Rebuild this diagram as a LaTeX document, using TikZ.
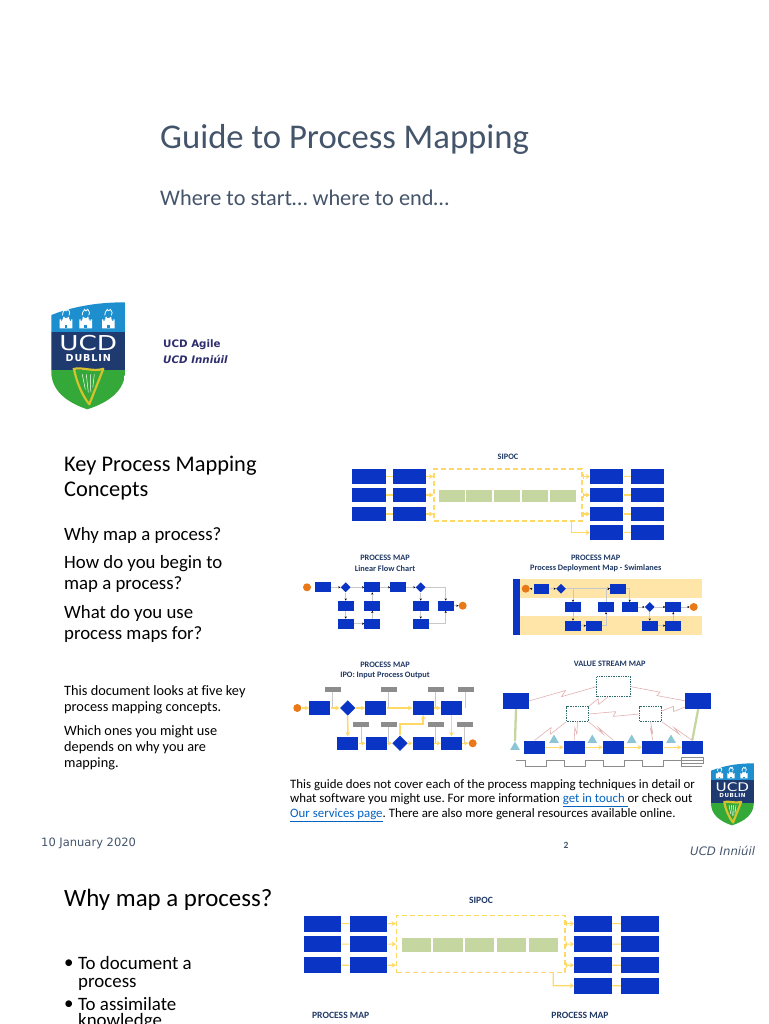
\documentclass[tikz,border=0pt]{standalone}
\usepackage{fontspec}
\setmainfont[Ligatures=NoCommon]{Carlito}
\newfontfamily\verdfont{DejaVu Sans}
\newfontfamily\crestfont[LetterSpace=9]{DejaVu Sans}
\usetikzlibrary{arrows.meta, calc, shapes.geometric}
\definecolor{mapBlue}{HTML}{0A35C4}
\definecolor{mapYellow}{HTML}{FFD966}
\definecolor{mapLane}{HTML}{FFE6A8}
\definecolor{mapGreen}{HTML}{C5D6A0}
\definecolor{mapOrange}{HTML}{E97816}
\definecolor{mapNavy}{HTML}{1F3864}
\definecolor{mapThin}{HTML}{C8C8C8}
\definecolor{mapGrey}{HTML}{8C8C8C}
\definecolor{mapTeal}{HTML}{2F6B6B}
\definecolor{mapTri}{HTML}{8CC6D6}
\definecolor{mapZig}{HTML}{E2B0B0}
\definecolor{slateText}{HTML}{44546A}
\definecolor{deepText}{HTML}{2E2E6E}
\definecolor{linkBlue}{HTML}{0563C1}
\definecolor{crestSky}{HTML}{1D8FCF}
\definecolor{crestNavy}{HTML}{1F3A6E}
\definecolor{crestGreen}{HTML}{35A83A}
\definecolor{crestGold}{HTML}{D6C22C}
\newcommand{\fs}[2]{\fontsize{#1}{#2}\selectfont}
\tikzset{
  every node/.append style={inner sep=0pt},
  txt/.style={anchor=west, align=left, text=black},
  mapbox/.style={fill=mapBlue, minimum width=15.7, minimum height=9.7},
  ipobox/.style={fill=mapBlue, minimum width=21, minimum height=13.4},
  mapdia/.style={diamond, fill=mapBlue, minimum width=10, minimum height=10},
  ipodia/.style={diamond, fill=mapBlue, minimum width=15.5, minimum height=15.5},
  endpt/.style={circle, fill=mapOrange, minimum size=8},
  greybox/.style={fill=mapGrey, minimum width=16.3, minimum height=5},
  maphead/.style={font=\fs{8.3}{9}\bfseries, text=mapNavy},
  bighead/.style={font=\fs{9.6}{10}\bfseries, text=mapNavy},
  dashbox/.style={draw=mapTeal, densely dotted, line width=0.7pt},
  vsmtri/.style={regular polygon, regular polygon sides=3, fill=mapTri, minimum size=11},
  thinflow/.style={draw=mapThin, line width=0.5pt, -{Stealth[black, length=2.2pt, width=2.2pt]}},
  fatflow/.style={draw=mapYellow, line width=1.5pt, -{Stealth[length=4.5pt, width=4.5pt]}},
  siplink/.style={draw=mapYellow, line width=1.2pt},
  sipflow/.style={siplink, -{Stealth[length=4.5pt, width=5pt]}},
  sipout/.style={siplink, {Bar[width=5pt]}-{Stealth[length=4.5pt, width=5pt]}},
  zig/.style={draw=mapZig, line width=0.6pt},
  vsmpole/.style={draw=mapGreen, line width=2.3pt},
}
\newcommand{\zigline}[2]{\draw[zig] (#1) -- ($(#1)!.56!(#2)+(-1.2,-2.4)$) -- ($(#1)!.46!(#2)+(1.2,2.4)$) -- (#2);}
% one SIPOC block: prefix, origin, x and y scale
\newcommand{\sipocmap}[5]{
  \begin{scope}[shift={(#2,#3)}, xscale=#4, yscale=#5,
      sbox/.style={fill=mapBlue, minimum width=32.6*#4*1.015, minimum height=14.5*#5},
      gbox/.style={fill=mapGreen, minimum width=26*#4, minimum height=12.6*#5}]
    \foreach \i/\y in {1/7.5, 2/26, 3/45} {
      \node[sbox] (#1sa\i) at (16.3,\y) {};
      \node[sbox] (#1sb\i) at (56.8,\y) {};
    }
    \foreach \i/\y in {1/7.5, 2/26, 3/45, 4/63.5} {
      \node[sbox] (#1ca\i) at (254.2,\y) {};
      \node[sbox] (#1cb\i) at (295.1,\y) {};
      \draw[siplink] (#1ca\i) -- (#1cb\i);
    }
    \foreach \i/\x in {1/99, 2/126.6, 3/154.3, 4/182.3, 5/210.3}
      \node[gbox] (#1g\i) at (\x,27) {};
    \node[draw=mapYellow, dashed, dash pattern=on 5pt off 3pt, line width=1.1pt,
      minimum width=148*#4, minimum height=52*#5] (#1proc) at (155.3,26) {};
    \foreach \i in {1,2,3} {
      \draw[siplink] (#1sa\i) -- (#1sb\i);
      \draw[sipflow] (#1sb\i) -- (#1sb\i -| #1proc.west);
    }
    \foreach \i in {1,2,3}
      \draw[sipout] (#1ca\i -| #1proc.east) -- (#1ca\i);
    \coordinate (#1tap) at (219,52);
    \draw[sipflow] (#1tap) -- (#1tap |- #1ca4) -- (#1ca4);
  \end{scope}
}
% crest: origin and size factor
\newcommand{\castle}[1]{
  \begin{scope}[shift={(#1,26)}]
    \fill[white] (-6.3,0) -- (-6.3,-9) -- (-5,-9) -- (-5,-7.5) -- (-3.8,-7.5) -- (-3.8,-9) -- (-2.2,-9) -- (-2.2,-7.5) -- (2.2,-7.5)
      -- (2.2,-9) -- (3.8,-9) -- (3.8,-7.5) -- (5,-7.5) -- (5,-9) -- (6.3,-9) -- (6.3,0) -- cycle;
    \fill[white] (-3,-7) -- (-3,-11.5) -- (-1.5,-11.5) -- (-1.5,-10.5) -- (1.5,-10.5) -- (1.5,-11.5) -- (3,-11.5) -- (3,-7) -- cycle;
    \fill[crestSky] (-1.4,0) rectangle (1.4,-3);
    \draw[white, line width=0.8pt] (-3.5,-13) .. controls (-4.5,-16) and (-2,-16) .. (-1,-19) .. controls (0,-16) and (1,-18) .. (2,-19)
      .. controls (4,-16) and (4.5,-15) .. (3,-13);
  \end{scope}
}
\newcommand{\crest}[3]{
  \begin{scope}[shift={(#1,#2)}, scale=#3]
    \begin{scope}
      \clip (0,12.7) .. controls (25,3) and (50,0) .. (73.7,0) -- (73.7,69.4)
        .. controls (73.7,88) and (58,100) .. (36,107) .. controls (15,100) and (0,88) .. (0,69.4) -- cycle;
      \fill[crestSky] (0,0) rectangle (74,29.4);
      \fill[crestNavy] (0,29.4) rectangle (74,67.7);
      \fill[crestGreen] (0,67.7) rectangle (74,108);
    \end{scope}
    \castle{14.7} \castle{34.4} \castle{57}
    \node[xscale=1.28*#3, yscale=#3, text=white, font=\verdfont\fs{20.5}{22}] (crestname#1) at (37,40.4) {UCD};
    \node[scale=#3, text=white, font=\crestfont\fs{9.6}{10}\bfseries] (crestcity#1) at (37,56) {DUBLIN};
    \draw[crestGold, line width=2.2pt, line join=round] (21.5,67) .. controls (30,64) and (42,70) .. (52,66.5)
      -- (38,102) .. controls (30,92) and (25,78) .. (23,68);
    \draw[white, line width=0.5pt] (31,72) -- (34,87) (35,72) -- (37,90) (39,72) -- (39.5,90) (43,72) -- (41.5,85);
  \end{scope}
}
\frenchspacing
\begin{document}
\begin{tikzpicture}[x=1pt, y=-1pt]
  \useasboundingbox (0,0) rectangle (768,1024);
  % cover
  \node[txt, text=slateText, font=\fs{34.7}{36}] (covertitle) at (160,139.5) {Guide to Process Mapping};
  \node[txt, text=slateText, font=\fs{22.3}{24}] (coversub) at (160,197.5) {Where to start… where to end…};
  \crest{51.3}{302.3}{1}
  \node[txt, text=deepText, font=\verdfont\fs{10.3}{11}\bfseries] (agile) at (163,345) {UCD Agile};
  \node[txt, text=deepText, font=\verdfont\fs{10.3}{11}\bfseries\itshape] (inniuil) at (163,359) {UCD Inniúil};
  % second page: left column
  \node[txt, anchor=north west, font=\fs{22.4}{25}] (keyhead) at (64,456) {Key Process Mapping\\Concepts};
  \node[txt, font=\fs{18.8}{20}] (whymap) at (64,535) {Why map a process?};
  \node[txt, anchor=north west, font=\fs{18.8}{21.5}] (howbegin) at (64,555) {How do you begin to\\map a process?};
  \node[txt, anchor=north west, font=\fs{18.8}{21.5}] (whatuse) at (64,605) {What do you use\\process maps for?};
  \node[txt, anchor=north west, font=\fs{14.3}{16}] (docnote) at (64,685.5) {This document looks at five key\\process mapping concepts.};
  \node[txt, anchor=north west, font=\fs{14.3}{16}] (whichnote) at (64,725.5) {Which ones you might use\\depends on why you are\\mapping.};
  \node[txt, anchor=north west, font=\fs{12.85}{14.7}] (guidenote) at (290,779) {This guide does not cover each of the process mapping techniques in detail or\\
    what software you might use. For more information \textcolor{linkBlue}{\underline{get in touch\ }}or check out\\
    \textcolor{linkBlue}{\underline{Our services page}}. There are also more general resources available online.};
  \node[txt, text=slateText, font=\verdfont\fs{11.5}{12}] (datenote) at (41,843) {10 January 2020};
  \node[text=slateText, font=\fs{9.5}{10}\bfseries] (pagenum) at (566,845) {2};
  \node[txt, text=slateText, font=\verdfont\fs{11.7}{12}\itshape] (inniuilb) at (690,851) {UCD Inniúil};
  \crest{711}{763.3}{0.58}
  % sipoc, page two
  \node[maphead] (siphead) at (508,456.7) {SIPOC};
  \sipocmap{pa}{352.7}{469}{1}{1}
  % linear flow chart
  \node[maphead] (linhead) at (385,558) {PROCESS MAP};
  \node[maphead] (linsub) at (385,568.7) {Linear Flow Chart};
  \node[endpt] (lstart) at (307,587.3) {};
  \node[endpt] (lend) at (462.7,605.7) {};
  \foreach \n/\x/\y in {lb1/323.2/587.3, lb2/372.3/587.3, lb3/398.3/587.3, lb4/345.7/605.7, lb5/372.3/605.7,
      lb6/420.7/605.7, lb7/445.7/605.7, lb8/345.7/623.7, lb9/372.3/623.7, lb10/420.7/623.7}
    \node[mapbox] (\n) at (\x,\y) {};
  \node[mapdia] (ld1) at (345.7,587.3) {};
  \node[mapdia] (ld2) at (420.7,587.3) {};
  \foreach \a/\b in {lb1/ld1, ld1/lb2, lb2/lb3, lb3/ld2, ld1/lb4, lb4/lb8, lb8/lb9, lb9/lb5, lb5/lb2, ld2/lb6, lb6/lb10, lb7/lend}
    \draw[thinflow] (\a) -- (\b);
  \draw[thinflow] (ld2) -| (lb7);
  \draw[thinflow] (lb10) -| (lb7);
  % swimlanes
  \node[maphead] (swimhead) at (595.7,558) {PROCESS MAP};
  \node[maphead] (swimsub) at (595.7,568.7) {Process Deployment Map - Swimlanes};
  \fill[mapLane] (520.3,579.3) rectangle (701.7,597.7);
  \fill[mapLane] (520.3,616.3) rectangle (701.7,635);
  \fill[mapBlue] (512.7,579.3) rectangle (520.3,635);
  \node[endpt] (sstart) at (525.7,588.7) {};
  \node[endpt] (send) at (693.7,607) {};
  \foreach \n/\x/\y in {sb1/541.5/588.7, sb2/617.8/588.7, sb3/573/607, sb4/606/607, sb5/629.7/607, sb6/673.3/607,
      sb7/573/625.7, sb8/594/625.7, sb9/649.7/625.7, sb10/673.3/625.7}
    \node[mapbox] (\n) at (\x,\y) {};
  \node[mapdia] (sd1) at (561,588.7) {};
  \node[mapdia] (sd2) at (649.7,607) {};
  \foreach \a/\b in {sb1/sstart, sb1/sd1, sd1/sb2, sb3/sb7, sb7/sb8, sb5/sd2, sd2/sb6, sb6/send, sd2/sb9, sb9/sb10, sb10/sb6}
    \draw[thinflow] (\a) -- (\b);
  \draw[thinflow] (sd1) -| (sb3);
  \draw[thinflow] (sb8) -| (sb4);
  \draw[thinflow] (sb4) |- (sb2);
  \draw[thinflow] (sb2) -| (sb5);
  % ipo
  \node[maphead] (ipohead) at (385,664.3) {PROCESS MAP};
  \node[maphead] (iposub) at (385,675) {IPO: Input Process Output};
  \node[endpt] (istart) at (297.3,708) {};
  \node[endpt] (iend) at (472.7,743.3) {};
  \foreach \n/\x/\y in {ib1/319.8/708, ib2/375.8/708, ib3/423.2/708, ib4/451.5/708,
      ib5/347.8/743.3, ib6/376.2/743.3, ib7/423.2/743.3, ib8/451.5/743.3}
    \node[ipobox] (\n) at (\x,\y) {};
  \node[ipodia] (id1) at (347.7,708) {};
  \node[ipodia] (id2) at (400,743.3) {};
  \foreach \n/\x/\y in {ig1/332.7/689.3, ig2/388.7/689.3, ig3/435.7/689.3, ig4/465.7/689.3,
      ig5/361/724, ig6/388.7/724, ig7/435.7/724, ig8/464.7/724}
    \node[greybox] (\n) at (\x,\y) {};
  \foreach \n/\y in {ig1/708, ig2/708, ig3/708, ig4/708, ig5/743.3, ig6/743.3, ig7/743.3, ig8/743.3}
    \draw[mapThin, line width=0.6pt] (\n.south) -- (\n.south |- 0,\y);
  \foreach \a/\b in {istart/ib1, ib1/id1, id1/ib2, ib2/ib3, ib3/ib4, ib5/ib6, ib6/id2, id2/ib7, ib7/ib8, ib8/iend, id1/ib5, ib4/ib8}
    \draw[fatflow] (\a) -- (\b);
  \coordinate (ielbow) at (400,724);
  \draw[fatflow] (id2) -- (ielbow) -| (ib3);
  % value stream map
  \node[maphead] (vsmhead) at (609.7,664.3) {VALUE STREAM MAP};
  \node[fill=mapBlue, minimum width=26.3, minimum height=16.3] (vleft) at (516,700.8) {};
  \node[fill=mapBlue, minimum width=26.3, minimum height=16.3] (vright) at (698.2,700.8) {};
  \node[dashbox, minimum width=34, minimum height=20] (vtop) at (613.7,686.7) {};
  \node[dashbox, minimum width=21.7, minimum height=14.7] (vmida) at (577.5,714) {};
  \node[dashbox, minimum width=21.7, minimum height=14.7] (vmidb) at (650.5,714) {};
  \foreach \n/\x in {vr1/534.5, vr2/574.2, vr3/613.5, vr4/652.8, vr5/692.2}
    \node[ipobox] (\n) at (\x,747.3) {};
  \node[vsmtri] (vt1) at (515,747) {};
  \foreach \n/\x in {vt2/554, vt3/592.3, vt4/631.7, vt5/671}
    \node[vsmtri] (\n) at (\x,740) {};
  \draw[vsmpole] (vleft.south) -- (vt1.north);
  \draw[vsmpole] (vright.south) -- (vr5.north);
  \foreach \a/\b in {vr1/vr2, vr2/vr3, vr3/vr4, vr4/vr5}
    \draw[fatflow] (\a) -- (\b);
  \zigline{vleft.east}{vtop.west}
  \zigline{vtop.east}{vright.west}
  \zigline{vmida.north east}{vtop.-120}
  \zigline{vmida.east}{vmidb.west}
  \zigline{vmidb.15}{vright.205}
  \zigline{vr1.north}{vmida.south west}
  \zigline{vr2.north}{vmida.south}
  \zigline{vr3.north}{vmida.south east}
  \zigline{vr4.north}{vmidb.south}
  \zigline{vr5.north}{vmidb.south east}
  \draw[mapGrey, line width=0.6pt] (515.7,760) -- (525,760) -- (525,766.7) -- (546.7,766.7) -- (546.7,760) -- (564.3,760) -- (564.3,766.7)
    -- (585.7,766.7) -- (585.7,760) -- (603.7,760) -- (603.7,766.7) -- (624.3,766.7) -- (624.3,760) -- (642.7,760) -- (642.7,766.7)
    -- (663.3,766.7) -- (663.3,760) -- (681,760) -- (681,766.7) -- (702.3,766.7);
  \draw[mapGrey, line width=0.5pt] (681,757.3) rectangle (703,763.3) (681,760) -- (703,760);
  % third page
  \node[txt, font=\fs{24.9}{26}] (whyhead) at (64,899.5) {Why map a process?};
  \node[bighead] (sipheadb) at (481,900.7) {SIPOC};
  \sipocmap{pb}{304}{915.3}{1.138}{1.108}
  \node[txt, font=\fs{18.9}{20}] (bulleta) at (64,964) {•};
  \node[txt, anchor=north west, font=\fs{18.9}{18}] (bullettexta) at (78,956.5) {To document a\\process};
  \node[txt, font=\fs{18.9}{20}] (bulletb) at (64,1005) {•};
  \node[txt, anchor=north west, font=\fs{18.9}{15.5}] (bullettextb) at (78,997.5) {To assimilate\\knowledge};
  \node[bighead] (mapheadl) at (340.7,1015.7) {PROCESS MAP};
  \node[bighead] (mapheadr) at (580,1015.7) {PROCESS MAP};
\end{tikzpicture}
\end{document}
